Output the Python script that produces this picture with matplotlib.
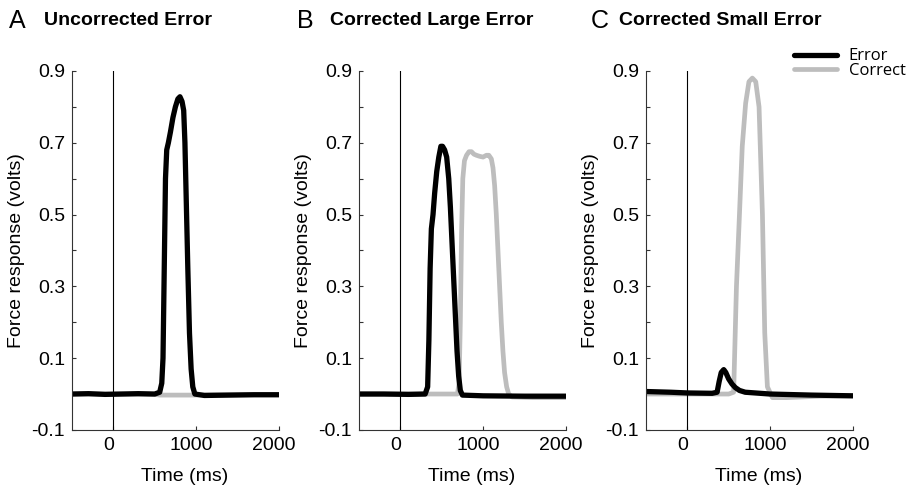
import numpy as np
import matplotlib.pyplot as plt
import matplotlib.transforms as mtransforms

plt.rcParams['font.family'] = ['Liberation Sans', 'DejaVu Sans']

# Panel A - uncorrected error
t_a_err = [-500, -300, -100, 100, 300, 500, 560, 585, 600, 615, 630, 645, 665, 690, 720,
           750, 780, 805, 830, 850, 865, 880, 900, 920, 940, 960, 985, 1100, 1400, 1700, 2000]
v_a_err = [0.0, 0.001, -0.001, 0.0, 0.001, 0.0, 0.005, 0.03, 0.1, 0.35, 0.6, 0.68, 0.70, 0.73, 0.77,
           0.80, 0.822, 0.828, 0.815, 0.79, 0.70, 0.55, 0.35, 0.17, 0.07, 0.02, 0.0, -0.004, -0.003, -0.002, -0.002]
t_a_cor = [-500, 0, 500, 560, 700, 900, 960, 1200, 1600, 2000]
v_a_cor = [0.0, 0.0, -0.001, -0.003, -0.003, -0.003, -0.003, -0.002, -0.002, -0.002]

# Panel B - corrected large error
t_b_err = [-500, -200, 100, 300, 330, 345, 360, 375, 395, 415, 440, 465, 490, 510, 535, 560,
           585, 605, 625, 645, 665, 685, 705, 725, 750, 1000, 1500, 2000]
v_b_err = [0.0, 0.0, -0.001, 0.0, 0.02, 0.15, 0.35, 0.46, 0.5, 0.56, 0.62, 0.66, 0.69, 0.69, 0.68, 0.66,
           0.60, 0.52, 0.42, 0.32, 0.22, 0.12, 0.05, 0.01, -0.003, -0.005, -0.006, -0.006]
t_b_cor = [-500, 0, 400, 690, 710, 725, 740, 755, 775, 800, 830, 860, 890, 920, 960, 1000, 1040,
           1070, 1100, 1120, 1140, 1160, 1180, 1200, 1220, 1240, 1260, 1285, 1310, 1350, 1600, 2000]
v_b_cor = [0.0, 0.0, 0.0, 0.0, 0.03, 0.2, 0.45, 0.6, 0.65, 0.665, 0.675, 0.675, 0.668, 0.665, 0.662, 0.66, 0.665,
           0.665, 0.655, 0.63, 0.58, 0.50, 0.40, 0.30, 0.20, 0.12, 0.06, 0.02, 0.0, -0.008, -0.01, -0.01]

# Panel C - corrected small error
t_c_err = [-500, -200, 0, 300, 360, 385, 410, 440, 465, 500, 540, 580, 630, 700, 1000, 1500, 2000]
v_c_err = [0.007, 0.005, 0.003, 0.002, 0.005, 0.035, 0.06, 0.068, 0.06, 0.042, 0.028, 0.018, 0.01, 0.005,
           0.0, -0.003, -0.005]
t_c_cor = [-500, 0, 500, 560, 594, 623, 664, 705, 745, 786, 827, 867, 908, 936, 968, 1029, 1200, 1600, 2000]
v_c_cor = [0.0, 0.0, 0.0, 0.005, 0.3, 0.46, 0.69, 0.81, 0.87, 0.88, 0.87, 0.8, 0.5, 0.17, 0.02, -0.01,
           -0.01, -0.006, -0.005]

letters = ['A', 'B', 'C']
titles = ['Uncorrected Error', 'Corrected Large Error', 'Corrected Small Error']
errors = [(t_a_err, v_a_err), (t_b_err, v_b_err), (t_c_err, v_c_err)]
corrects = [(t_a_cor, v_a_cor), (t_b_cor, v_b_cor), (t_c_cor, v_c_cor)]

y_ticks = [-0.1, 0.0, 0.1, 0.2, 0.3, 0.4, 0.5, 0.6, 0.7, 0.8, 0.9]
x_ticks = [0, 1000, 2000]

fig = plt.figure(figsize=(9.07, 4.88), dpi=100)
lefts = [0.0794, 0.3958, 0.7122]
letter_x = [0.010, 0.328, 0.651]
title_x = [0.048, 0.364, 0.682]
grey = '#bdbdbd'

for i in range(3):
    ax = fig.add_axes([lefts[i], 0.119, 0.228, 0.7357])
    ax.plot(corrects[i][0], corrects[i][1], color=grey, lw=3.4,
            solid_capstyle='round', solid_joinstyle='round', label='Correct')
    ax.plot(errors[i][0], errors[i][1], color='black', lw=3.8,
            solid_capstyle='round', solid_joinstyle='round', label='Error')
    ax.axvline(0, color='black', lw=0.8)

    ax.set_xlim(-500, 2000)
    ax.set_ylim(-0.1, 0.9)
    ax.set_xticks(x_ticks)
    ax.set_xticklabels([str(x) for x in x_ticks])
    ax.set_yticks(y_ticks)
    ax.set_yticklabels([f'{y:.1f}' if k % 2 == 0 else '' for k, y in enumerate(y_ticks)])
    ax.tick_params(direction='in', length=3, width=0.8, labelsize=14, color='#333333', pad=5)
    for lab in ax.get_xticklabels():
        lab.set_transform(lab.get_transform() +
                          mtransforms.ScaledTranslation(-0.05, 0, fig.dpi_scale_trans))
    for s in ['top', 'right']:
        ax.spines[s].set_visible(False)
    for s in ['left', 'bottom']:
        ax.spines[s].set_color('#333333')
        ax.spines[s].set_linewidth(0.8)

    ax.set_xlabel('Time (ms)', fontsize=14)
    ax.xaxis.set_label_coords(0.545, -0.105)
    ax.set_ylabel('Force response (volts)', fontsize=14)
    ax.yaxis.set_label_coords(-0.228, 0.5)

    fig.text(letter_x[i], 0.956, letters[i], fontsize=18, va='center', ha='left')
    fig.text(title_x[i], 0.958, titles[i], fontsize=14, fontweight='bold', va='center', ha='left')

    if i == 2:
        handles, labels = ax.get_legend_handles_labels()
        fig.legend(handles[::-1], labels[::-1], loc='upper left', bbox_to_anchor=(0.866, 0.918),
                   frameon=False, handlelength=2.6, handletextpad=0.7,
                   labelspacing=-0.1, borderpad=0, prop={'family': 'Open Sans', 'size': 12})

fig.savefig('out.png', dpi=100)
